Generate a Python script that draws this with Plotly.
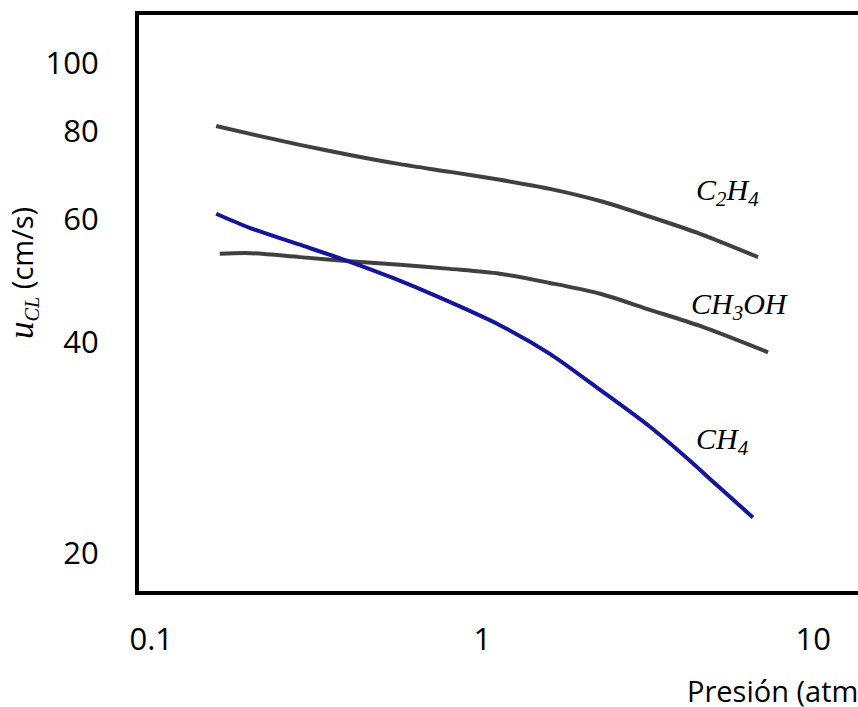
import plotly.graph_objects as go

# Data (pressure in atm, burning velocity in cm/s)
p_c2h4 = [0.157, 0.199, 0.281, 0.398, 0.564, 0.799, 1.13, 1.60, 2.27, 3.21, 4.55, 6.81]
u_c2h4 = [81.4, 79.3, 76.5, 74.0, 71.8, 70.0, 68.2, 66.2, 63.6, 60.4, 57.1, 52.9]

p_ch3oh = [0.161, 0.199, 0.281, 0.398, 0.564, 0.799, 1.13, 1.60, 2.27, 3.21, 4.55, 7.30]
u_ch3oh = [53.5, 53.6, 52.9, 52.2, 51.6, 50.9, 50.1, 48.6, 46.9, 44.5, 42.2, 38.7]

p_ch4 = [0.157, 0.199, 0.281, 0.398, 0.537, 0.745, 1.13, 1.60, 2.27, 3.21, 4.24, 5.12, 6.57]
u_ch4 = [61.0, 58.2, 55.1, 52.1, 49.4, 46.3, 42.3, 38.5, 34.2, 30.3, 27.1, 25.0, 22.5]

x_ticks = [0.1, 1, 10]
x_ticktext = ["0.1", "1", "10"]
y_ticks = [20, 40, 60, 80, 100]
y_ticktext = ["20", "40", "60", "80", "100"]

GRAY = "#404040"
BLUE = "#15159c"
SANS = "Open Sans"
SERIF = "Liberation Serif"

fig = go.Figure()
for xs, ys, col, nm in [(p_c2h4, u_c2h4, GRAY, "C2H4"),
                        (p_ch3oh, u_ch3oh, GRAY, "CH3OH"),
                        (p_ch4, u_ch4, BLUE, "CH4")]:
    fig.add_trace(go.Scatter(x=xs, y=ys, mode="lines", name=nm,
                             line=dict(color=col, width=4, shape="spline", smoothing=0.8)))

W, H = 858, 707
ml, mt, mb = 139, 15, 116
pw, ph = W - ml, H - mt - mb


def px(xp):
    return (xp - ml) / pw


def py(yp):
    return (H - mb - yp) / ph


label_font = dict(family=SERIF, size=30, color="black")
annos = [
    dict(text="<i>C<sub>2</sub>H<sub>4</sub></i>", x=px(727), y=py(192)),
    dict(text="<i>CH<sub>3</sub>OH</i>", x=px(740), y=py(306)),
    dict(text="<i>CH<sub>4</sub></i>", x=px(722), y=py(441)),
]
for a in annos:
    a.update(xref="paper", yref="paper", showarrow=False, font=label_font,
             xanchor="center", yanchor="middle")

annos.append(dict(text="Presión (atm)", x=px(685), y=py(690), xref="paper", yref="paper",
                  showarrow=False, xanchor="left", yanchor="middle",
                  font=dict(family=SANS, size=29, color="black")))
annos.append(dict(text="<span style='font-family:Liberation Serif;font-size:35px'><i>u</i></span>"
                       "<sub><span style='font-family:Liberation Serif'><i>CL</i></span></sub> (cm/s)",
                  x=px(22), y=py(273), xref="paper", yref="paper", textangle=-90,
                  showarrow=False, xanchor="center", yanchor="middle",
                  font=dict(family=SANS, size=29, color="black")))

fig.update_layout(
    width=W, height=H,
    margin=dict(l=ml, r=0, t=mt, b=mb, pad=0),
    paper_bgcolor="white", plot_bgcolor="white",
    showlegend=False,
    annotations=annos,
    xaxis=dict(type="log", range=[(ml - 482.3) / 331, (W - 482.3) / 331],
               tickvals=x_ticks, ticktext=x_ticktext, ticks="",
               showgrid=False, zeroline=False, showline=True, linecolor="black",
               linewidth=4, mirror=True, automargin=False, ticklabelstandoff=18,
               tickfont=dict(family=SANS, size=31, color="black")),
    yaxis=dict(type="log",
               range=[1.7168 - (H - mb - 261.8) / 701, 1.7168 + (261.8 - mt) / 701],
               tickvals=y_ticks, ticktext=y_ticktext, ticks="",
               showgrid=False, zeroline=False, showline=True, linecolor="black",
               linewidth=4, mirror=False, automargin=False, ticklabelstandoff=30,
               tickfont=dict(family=SANS, size=31, color="black")),
)

fig.write_html("out.html")
